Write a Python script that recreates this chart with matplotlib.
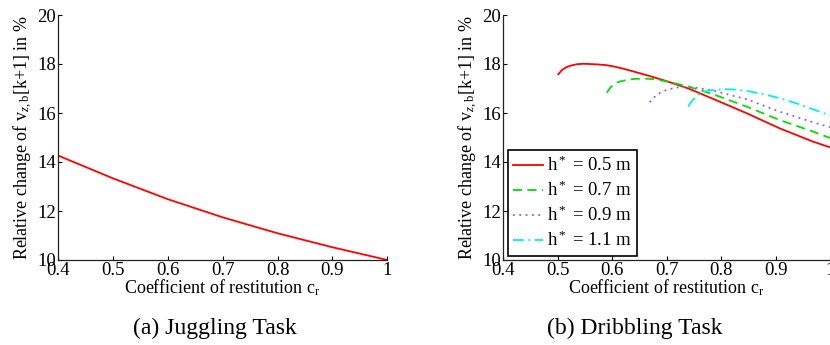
import matplotlib
matplotlib.use("Agg")
import matplotlib.pyplot as plt
import numpy as np

plt.rcParams['font.family'] = ['Liberation Serif', 'DejaVu Serif']
plt.rcParams['mathtext.fontset'] = 'custom'
plt.rcParams['mathtext.rm'] = 'Liberation Serif'
plt.rcParams['mathtext.it'] = 'Liberation Serif:italic'
plt.rcParams['mathtext.bf'] = 'Liberation Serif:bold'

# Juggling task
jug_x = [0.4, 0.5, 0.6, 0.7, 0.8, 0.9, 1.0]
jug_y = [14.26, 13.33, 12.48, 11.74, 11.09, 10.52, 10.0]

# Dribbling task
h05_x = [0.501, 0.508, 0.516, 0.525, 0.535, 0.547, 0.559, 0.575, 0.590, 0.605, 0.620, 0.635, 0.651,
         0.667, 0.682, 0.697, 0.712, 0.740, 0.786, 0.847, 0.908, 0.969, 1.0]
h05_y = [17.58, 17.76, 17.87, 17.94, 17.99, 18.01, 18.00, 17.98, 17.95, 17.89, 17.81, 17.72, 17.62,
         17.52, 17.42, 17.32, 17.21, 17.00, 16.57, 15.99, 15.37, 14.83, 14.60]
h07_x = [0.590, 0.597, 0.605, 0.615, 0.627, 0.640, 0.651, 0.664, 0.676, 0.700, 0.737, 0.786, 0.847,
         0.908, 0.969, 1.0]
h07_y = [16.83, 17.05, 17.21, 17.29, 17.35, 17.39, 17.40, 17.40, 17.38, 17.29, 17.10, 16.76, 16.26,
         15.71, 15.24, 14.98]
h09_x = [0.669, 0.675, 0.682, 0.690, 0.700, 0.712, 0.725, 0.749, 0.786, 0.847, 0.908, 0.969, 1.0]
h09_y = [16.44, 16.60, 16.73, 16.85, 16.94, 17.01, 17.06, 17.05, 16.91, 16.56, 16.05, 15.62, 15.42]
h11_x = [0.740, 0.744, 0.749, 0.755, 0.761, 0.772, 0.786, 0.800, 0.816, 0.832, 0.847, 0.878, 0.908,
         0.939, 0.969, 1.0]
h11_y = [16.26, 16.42, 16.55, 16.69, 16.80, 16.89, 16.94, 16.96, 16.97, 16.94, 16.90, 16.77, 16.60,
         16.39, 16.15, 15.90]

x_ticks = [0.4, 0.5, 0.6, 0.7, 0.8, 0.9, 1.0]
x_tick_labels = ['0.4', '0.5', '0.6', '0.7', '0.8', '0.9', '1']
y_ticks = [10, 12, 14, 16, 18, 20]
labels = [r'h$^*$ = 0.5 m', r'h$^*$ = 0.7 m', r'h$^*$ = 0.9 m', r'h$^*$ = 1.1 m']

fig = plt.figure(figsize=(8.3, 3.45), dpi=100)
ax1 = fig.add_axes([58.3/830, 1-260/345, 329/830, 245/345])
ax2 = fig.add_axes([503.3/830, 1-260/345, 326.7/830, 245/345])

def style(ax):
    ax.set_xlim(0.4, 1.0)
    ax.set_ylim(10, 20)
    ax.set_xticks(x_ticks)
    ax.set_xticklabels(x_tick_labels)
    ax.set_yticks(y_ticks)
    ax.spines['top'].set_visible(False)
    ax.spines['right'].set_visible(False)
    for s in ['left', 'bottom']:
        ax.spines[s].set_linewidth(0.9)
        ax.spines[s].set_color('#222222')
    ax.tick_params(direction='in', length=3, width=0.8, labelsize=13.5, pad=1.5)
    ax.set_xlabel(r'Coefficient of restitution c$_{\mathrm{r}}$', fontsize=13, labelpad=-1)
    ax.set_ylabel(r'Relative change of v$_{z,\mathrm{b}}$[k+1] in %', fontsize=13, labelpad=2)
    ax.patch.set_alpha(0)

ax1.plot(jug_x, jug_y, color='#ff0000', lw=1.3)
style(ax1)

ax2.plot(h05_x, h05_y, color='#ff0000', lw=1.3, ls='-', label=labels[0])
ax2.plot(h07_x, h07_y, color='#00e000', lw=1.3, ls=(0, (5, 3)), label=labels[1])
ax2.plot(h09_x, h09_y, color='#6a6aff', lw=1.3, ls=(0, (1, 2.5)), label=labels[2])
ax2.plot(h11_x, h11_y, color='#00f0f0', lw=1.3, ls=(0, (6, 2.5, 1, 2.5)), label=labels[3])
style(ax2)
leg = ax2.legend(loc='lower left', bbox_to_anchor=(0.0135, 0.016), fontsize=13.5, frameon=True,
                 fancybox=False, edgecolor='black', framealpha=1, handlelength=1.6,
                 handletextpad=0.2, borderpad=0.3, labelspacing=0.3, borderaxespad=0)
leg.get_frame().set_linewidth(1.2)

fig.text(215/830, 1-328/345, '(a) Juggling Task', ha='center', va='center', fontsize=17)
fig.text(635/830, 1-328/345, '(b) Dribbling Task', ha='center', va='center', fontsize=17)

fig.savefig('out.png', dpi=100)
